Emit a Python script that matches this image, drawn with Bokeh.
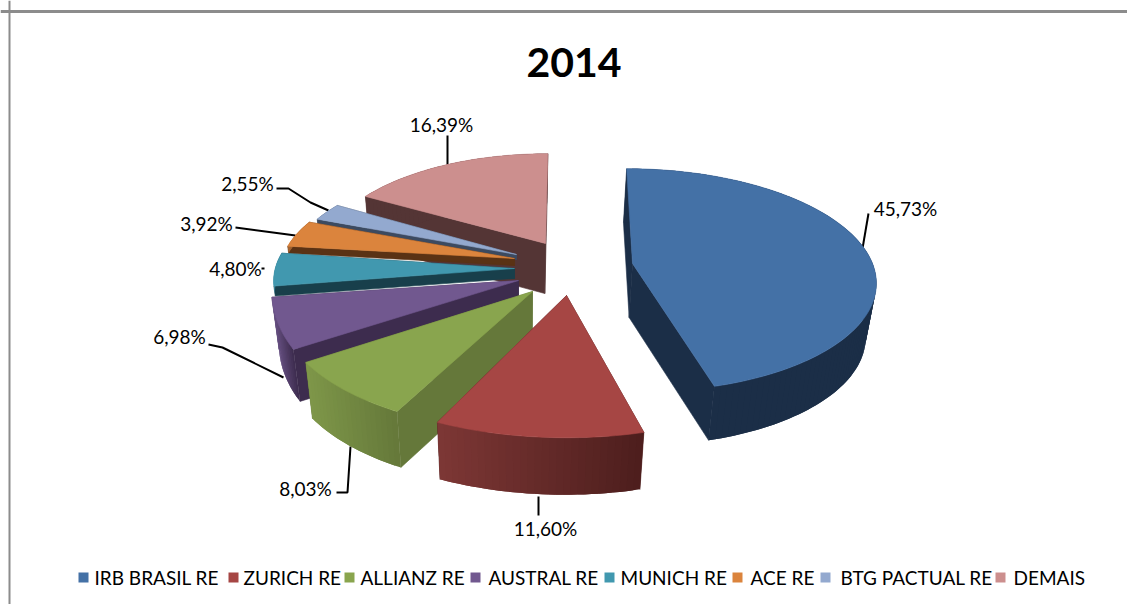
import math
from bokeh.core.properties import value
from bokeh.embed import file_html
from bokeh.models import ColumnDataSource, Range1d, Span
from bokeh.plotting import figure
from bokeh.resources import INLINE

# ---- data -------------------------------------------------------------
categories = ["IRB BRASIL RE", "ZURICH RE", "ALLIANZ RE", "AUSTRAL RE",
              "MUNICH RE", "ACE RE", "BTG PACTUAL RE", "DEMAIS"]
shares = [45.73, 11.60, 8.03, 6.98, 4.80, 3.92, 2.55, 16.39]
title_text = "2014"

# ---- style ------------------------------------------------------------
top_colors = ["#4471A6", "#A64644", "#89A54E", "#71588F",
              "#4198AF", "#DB843D", "#93A9CF", "#CC8F8E"]
radial_colors = ["#1B2E47", "#4D1E1D", "#65783A", "#3D2C4E",
                 "#183F4B", "#5A3214", "#3C4A60", "#543535"]
side_left = ["#1B2E47", "#7D3735", "#7E9749", "#6A5386",
             "#3A8499", "#A86530", "#3C4A60", "#543535"]
side_right = ["#1B2E47", "#4D1E1D", "#65783A", "#3D2C4E",
              "#183F4B", "#5A3214", "#3C4A60", "#543535"]

# ---- layout (page pixels) ---------------------------------------------
W, H = 1127, 604
RX, RY, SKEW, PERSP = 250.0, 109.0, -7.0, 0.15
arc_centres = [(632, 263), (558, 309), (508, 288), (445, 277),
               (525, 267), (531, 260), (539, 257), (553, 248)]
arc_scale_x = [0.96, 1.0, 0.92, 0.69, 1.0, 1.0, 1.0, 0.93]
arc_scale_y = [1.0, 1.0, 1.09, 1.06, 1.0, 1.0, 1.0, 1.0]
apex_points = [(632, 263), (566, 295), (532, 291), (518, 280),
               (514, 268), (514, 258), (516, 254), (545, 243)]
depths = [54, 57, 56, 52, 10, 7, 5, 50]
VX, SHRINK_PER_PX = 520.0, 0.03 / 54
draw_order = [7, 6, 5, 4, 3, 2, 1, 0]

label_pos = [(905, 208), (545, 528), (305, 488), (179, 336),
             (235, 268), (206, 223), (247, 183), (441, 124)]
leaders = [[(862, 248), (868, 213)],
           [(538, 496), (538, 515)],
           [(336, 492), (347, 492), (350, 446)],
           [(208, 344), (222, 347), (283, 377)],
           [(261, 268), (264, 268)],
           [(235, 227), (280, 233), (295, 235)],
           [(276, 188), (288, 188), (310, 202), (328, 210)],
           [(447, 135), (447, 164)]]
legend_swatch_x = [83, 233, 349, 475, 609, 737, 825, 1000]
legend_text_x = [94, 243, 360, 488, 620, 750, 840, 1013]
LEGEND_Y = 577


def project(theta, centre, sx, sy):
    u, v = math.sin(theta), math.cos(theta)
    w = 1.0 / (1.0 + PERSP * v)
    return (centre[0] + (RX * u + SKEW * v) * w * sx, centre[1] - RY * v * w * sy)


def drop(pt, depth):
    return (VX + (pt[0] - VX) * (1 - SHRINK_PER_PX * depth), pt[1] + depth)


def mix(c1, c2, t):
    a = [int(c1[i:i + 2], 16) for i in (1, 3, 5)]
    b = [int(c2[i:i + 2], 16) for i in (1, 3, 5)]
    return "#%02x%02x%02x" % tuple(round(x + (y - x) * t) for x, y in zip(a, b))


total = sum(shares)
starts = []
acc = 0.0
for s in shares:
    starts.append(acc)
    acc += s

xs, ys, fills, widths = [], [], [], []


def add_poly(points, colour, lw=0.6):
    xs.append([p[0] for p in points])
    ys.append([p[1] for p in points])
    fills.append(colour)
    widths.append(lw)


for i in draw_order:
    t1 = 2 * math.pi * starts[i] / total
    t2 = 2 * math.pi * (starts[i] + shares[i]) / total
    c = arc_centres[i]
    apex = apex_points[i]
    d = depths[i]
    n = max(8, int(shares[i] * 2.5))
    arc = [project(t1 + (t2 - t1) * k / n, c, arc_scale_x[i], arc_scale_y[i]) for k in range(n + 1)]
    # flat side faces
    add_poly([apex, arc[-1], drop(arc[-1], d), drop(apex, d)], radial_colors[i])
    add_poly([apex, arc[0], drop(arc[0], d), drop(apex, d)], radial_colors[i])
    # curved outer face: overlapping strips so that no seams appear
    xmin = min(p[0] for p in arc)
    xmax = max(p[0] for p in arc)
    for k in range(n):
        a, b = arc[k], arc[min(k + 2, n)]
        t = ((a[0] + arc[k + 1][0]) / 2 - xmin) / max(xmax - xmin, 1)
        add_poly([a, arc[k + 1], b, drop(b, d), drop(arc[k + 1], d), drop(a, d)],
                 mix(side_left[i], side_right[i], t), 0)
    # top face
    add_poly([apex] + arc, top_colors[i])

FONT = value("Lato")
p = figure(width=W, height=H, output_backend="svg", toolbar_location=None,
           x_range=Range1d(0, W), y_range=Range1d(H, 0),
           min_border=0, outline_line_color=None, background_fill_color="white",
           border_fill_color="white")
p.axis.visible = False
p.grid.visible = False

p.add_layout(Span(location=11, dimension="width", line_color="#8C8C8C", line_width=3))
p.add_layout(Span(location=9, dimension="height", line_color="#8C8C8C", line_width=2))

for pts in leaders:
    p.line([q[0] for q in pts], [q[1] for q in pts], line_color="black", line_width=2)

p.patches("xs", "ys", source=ColumnDataSource(dict(xs=xs, ys=ys, fill=fills, lw=widths)),
          fill_color="fill", line_color="fill", line_width="lw")

p.text([573.5], [62], text=[title_text], text_font=FONT, text_font_style="bold",
       text_font_size="41px", text_align="center", text_baseline="middle", text_color="black")

labels = [("%.2f%%" % s).replace(".", ",") for s in shares]
p.text([q[0] for q in label_pos], [q[1] for q in label_pos], text=labels,
       text_font=FONT, text_font_size="19px", text_align="center",
       text_baseline="middle", text_color="black")

p.rect(legend_swatch_x, [LEGEND_Y] * 8, width=10, height=10, fill_color=top_colors, line_color=None)
p.text(legend_text_x, [LEGEND_Y] * 8, text=categories, text_font=FONT, text_font_size="19px",
       text_align="left", text_baseline="middle", text_color="black")

open("out.html", "w").write(file_html(p, INLINE))
